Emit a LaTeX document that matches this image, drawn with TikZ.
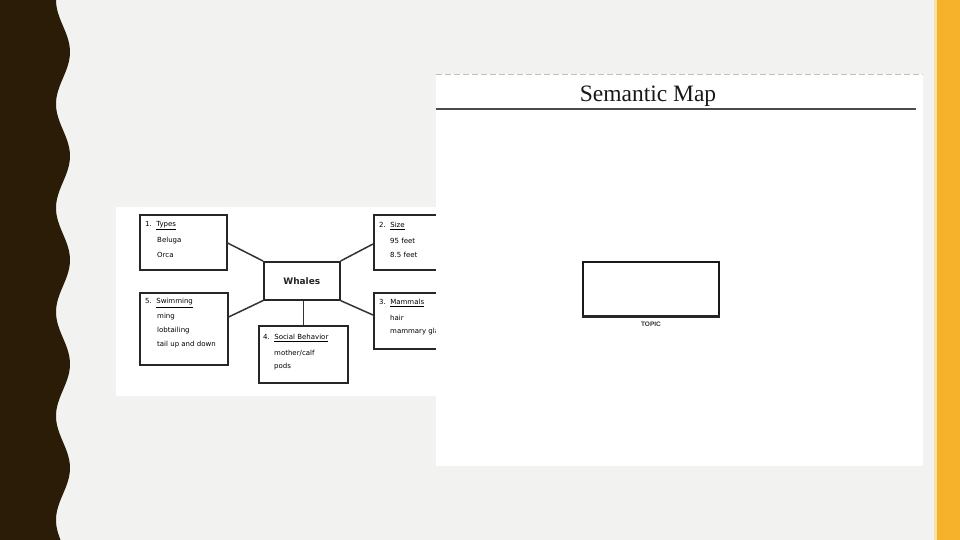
\documentclass[tikz,border=0pt]{standalone}
\usepackage{fontspec}
\usetikzlibrary{calc}
\newfontfamily\hand{DejaVu Sans}
\newfontfamily\topicfont{Liberation Sans}
\newfontfamily\titlefont{Liberation Serif}
\definecolor{bg}{HTML}{F2F2F0}
\definecolor{darkbrown}{HTML}{2A1C06}
\definecolor{gold}{HTML}{F6B22A}
\begin{document}
\begin{tikzpicture}[x=1pt,y=-1pt,
  mapbox/.style={draw=black!85, line width=1.6pt, inner sep=0pt, anchor=north west},
  link/.style={draw=black!80, line width=1.5pt},
  txt/.style={anchor=west, inner sep=0pt, font=\hand\fontsize{7}{8}\selectfont, text=black}]
\useasboundingbox (0,0) rectangle (960,540);
% background
\fill[bg] (0,0) rectangle (960,540);
% wavy dark band
\fill[darkbrown] (0,0) -- plot[domain=0:540, samples=200, smooth] ({63-7*cos(\x/104*360)}, \x) -- (0,540) -- cycle;
% gold band
\fill[gold!40] (934,0) rectangle (938,540);
\fill[gold] (937,0) rectangle (960,540);
% ---------- Whales picture ----------
\fill[white] (116,207) rectangle (437,396);
\node[mapbox, minimum width=87pt, minimum height=55pt] (types) at (139,214) {};
\node[mapbox, minimum width=87pt, minimum height=55pt] (size) at (373,214) {};
\node[mapbox, minimum width=76pt, minimum height=38pt] (whales) at (263,261) {};
\node[font=\hand\bfseries\fontsize{9}{10}\selectfont, text=black!85] (whalestxt) at (whales.center) {Whales};
\node[mapbox, minimum width=88pt, minimum height=72pt] (swim) at (139,292) {};
\node[mapbox, minimum width=87pt, minimum height=56pt] (mamm) at (373,292) {};
\node[mapbox, minimum width=89pt, minimum height=57pt] (social) at (258,325) {};
% connectors
\draw[link] ($(types.north east)+(0,29)$) -- (whales.north west);
\draw[link] ($(size.north west)+(0,30)$) -- (whales.north east);
\draw[link] ($(swim.north east)+(0,25)$) -- (whales.south west);
\draw[link] ($(mamm.north west)+(0,23)$) -- (whales.south east);
\draw[link] (whales.south -| social.north) -- (social.north);
% texts
\node[txt] (t1) at (145,226) {1.\ \ \underline{Types}};
\node[txt] (t1a) at (157,241) {Beluga};
\node[txt] (t1b) at (157,255) {Orca};
\node[txt] (t2) at (379,226) {2.\ \ \underline{Size}};
\node[txt] (t2a) at (390,241) {95 feet};
\node[txt] (t2b) at (390,255) {8.5 feet};
\node[txt] (t5) at (145,303) {5.\ \ \underline{Swimming}};
\node[txt] (t5a) at (157,317) {ming};
\node[txt] (t5b) at (157,331) {lobtailing};
\node[txt] (t5c) at (157,345) {tail up and down};
\node[txt] (t3) at (379,303) {3.\ \ \underline{Mammals}};
\node[txt] (t3a) at (390,318) {hair};
\node[txt] (t3b) at (390,332) {mammary glands};
\node[txt] (t4) at (263,338) {4.\ \ \underline{Social Behavior}};
\node[txt] (t4a) at (274,353) {mother/calf};
\node[txt] (t4b) at (274,367) {pods};
% ---------- Semantic map picture ----------
\fill[white] (436,74) rectangle (923,466);
\draw[gray!50, line width=0.8pt, dash pattern=on 6pt off 3pt] (436,74) -- (923,74);
\node[font=\titlefont\fontsize{23.5}{25}\selectfont, text=black!90] (title) at (648,96) {Semantic Map};
\draw[black!70, line width=2pt] (436,109.5) -- (916,109.5);
\node[draw=black!90, line width=1.5pt, minimum width=136pt, minimum height=54pt, inner sep=0pt, anchor=north west] (topic) at (582,261) {};
\draw[black!85, line width=2.4pt] (topic.south west) -- (topic.south east);
\node[font=\topicfont\bfseries\fontsize{6.5}{7}\selectfont, text=black!80] (topiclbl) at (651,324) {TOPIC};
\end{tikzpicture}
\end{document}
